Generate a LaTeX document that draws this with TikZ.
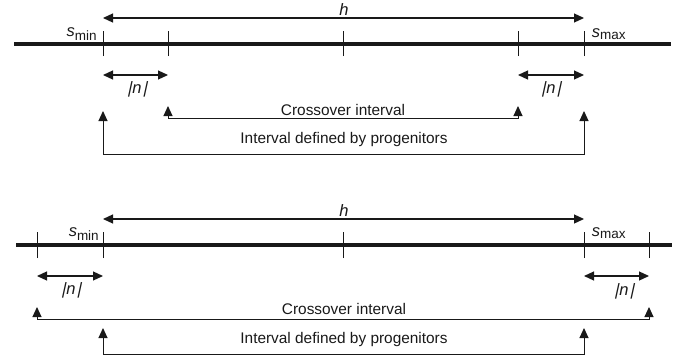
\documentclass[tikz,border=0pt]{standalone}
\usepackage{fontspec}
\setmainfont{Liberation Sans}
\newfontfamily\barslant[FakeSlant=0.22]{Liberation Sans}
\usetikzlibrary{arrows.meta}
\definecolor{ink}{rgb}{0.1,0.1,0.1}
\tikzset{
  axis/.style={line width=3.2pt, ink},
  tick/.style={line width=1pt, ink},
  dimarrow/.style={line width=1.2pt, ink, {Triangle[length=10pt,width=9pt]}-{Triangle[length=10pt,width=9pt]}},
  bracket/.style={line width=1pt, ink, {Triangle[length=10pt,width=9pt]}-{Triangle[length=10pt,width=9pt]}},
  lbl/.style={inner sep=0pt, font=\fontsize{15.4}{18}\selectfont, text=ink},
  ilbl/.style={lbl, font=\fontsize{16.5}{18}\selectfont\itshape},
}
\newcommand{\sub}[1]{\textsubscript{\upshape\fontsize{13.5}{14}\selectfont #1}}
\newcommand{\absn}{{\barslant|}\kern1pt n\kern1pt{\barslant|}}
\begin{document}
\begin{tikzpicture}[x=1pt,y=-1pt]
\useasboundingbox (0,0) rectangle (684,361);

% ---------- upper scheme: crossover interval inside the progenitor interval
\coordinate (aL) at (14,44);  \coordinate (aR) at (671,44);
\coordinate (t1) at (103,44); \coordinate (t2) at (168,44); \coordinate (t3) at (343,44);
\coordinate (t4) at (518,44); \coordinate (t5) at (584,44);
\draw[axis] (aL) -- (aR);
\foreach \t in {t1,t2,t3,t4,t5} \draw[tick] ([yshift=-12pt]\t) -- ([yshift=13pt]\t);

\coordinate (hL) at (103,18); \coordinate (hR) at (584,18);
\draw[dimarrow] (hL) -- (hR);
\node[ilbl] (h1) at (344,10) {h};
\node[ilbl] (smin1) at (82,34) {s\sub{min}};
\node[ilbl] (smax1) at (609,34) {s\sub{max}};

\coordinate (n1a) at (103,75); \coordinate (n1b) at (168,75);
\coordinate (n2a) at (518,75); \coordinate (n2b) at (584,75);
\draw[dimarrow] (n1a) -- (n1b);
\draw[dimarrow] (n2a) -- (n2b);
\node[ilbl] (nl1) at (137,89) {\absn};
\node[ilbl] (nr1) at (551,89) {\absn};

\coordinate (c1a) at (168,106); \coordinate (c1b) at (168,118);
\coordinate (c1c) at (518,118); \coordinate (c1d) at (518,106);
\draw[bracket] (c1a) -- (c1b) -- (c1c) -- (c1d);
\node[lbl] (cross1) at (343,110) {Crossover interval};

\coordinate (p1a) at (103,111); \coordinate (p1b) at (103,154);
\coordinate (p1c) at (584,154); \coordinate (p1d) at (584,111);
\draw[bracket] (p1a) -- (p1b) -- (p1c) -- (p1d);
\node[lbl] (prog1) at (344,140) {Interval defined by progenitors};

% ---------- lower scheme: crossover interval wider than the progenitor interval
\coordinate (bL) at (16,245);  \coordinate (bR) at (672,245);
\coordinate (u1) at (37,245);  \coordinate (u2) at (103,245); \coordinate (u3) at (343,245);
\coordinate (u4) at (584,245); \coordinate (u5) at (649,245);
\draw[axis] (bL) -- (bR);
\foreach \t in {u1,u2,u3,u4,u5} \draw[tick] ([yshift=-13pt]\t) -- ([yshift=13pt]\t);

\coordinate (kL) at (103,219); \coordinate (kR) at (584,219);
\draw[dimarrow] (kL) -- (kR);
\node[ilbl] (h2) at (344,211) {h};
\node[ilbl] (smin2) at (84,234) {s\sub{min}};
\node[ilbl] (smax2) at (609,233) {s\sub{max}};

\coordinate (m1a) at (37,276);  \coordinate (m1b) at (103,276);
\coordinate (m2a) at (584,276); \coordinate (m2b) at (649,276);
\draw[dimarrow] (m1a) -- (m1b);
\draw[dimarrow] (m2a) -- (m2b);
\node[ilbl] (nl2) at (71,290) {\absn};
\node[ilbl] (nr2) at (624,291) {\absn};

\coordinate (c2a) at (37,307);  \coordinate (c2b) at (37,319);
\coordinate (c2c) at (649,319); \coordinate (c2d) at (649,307);
\draw[bracket] (c2a) -- (c2b) -- (c2c) -- (c2d);
\node[lbl] (cross2) at (344,309) {Crossover interval};

\coordinate (p2a) at (103,328); \coordinate (p2b) at (103,354);
\coordinate (p2c) at (584,354); \coordinate (p2d) at (584,328);
\draw[bracket] (p2a) -- (p2b) -- (p2c) -- (p2d);
\node[lbl] (prog2) at (344,340) {Interval defined by progenitors};
\end{tikzpicture}
\end{document}
